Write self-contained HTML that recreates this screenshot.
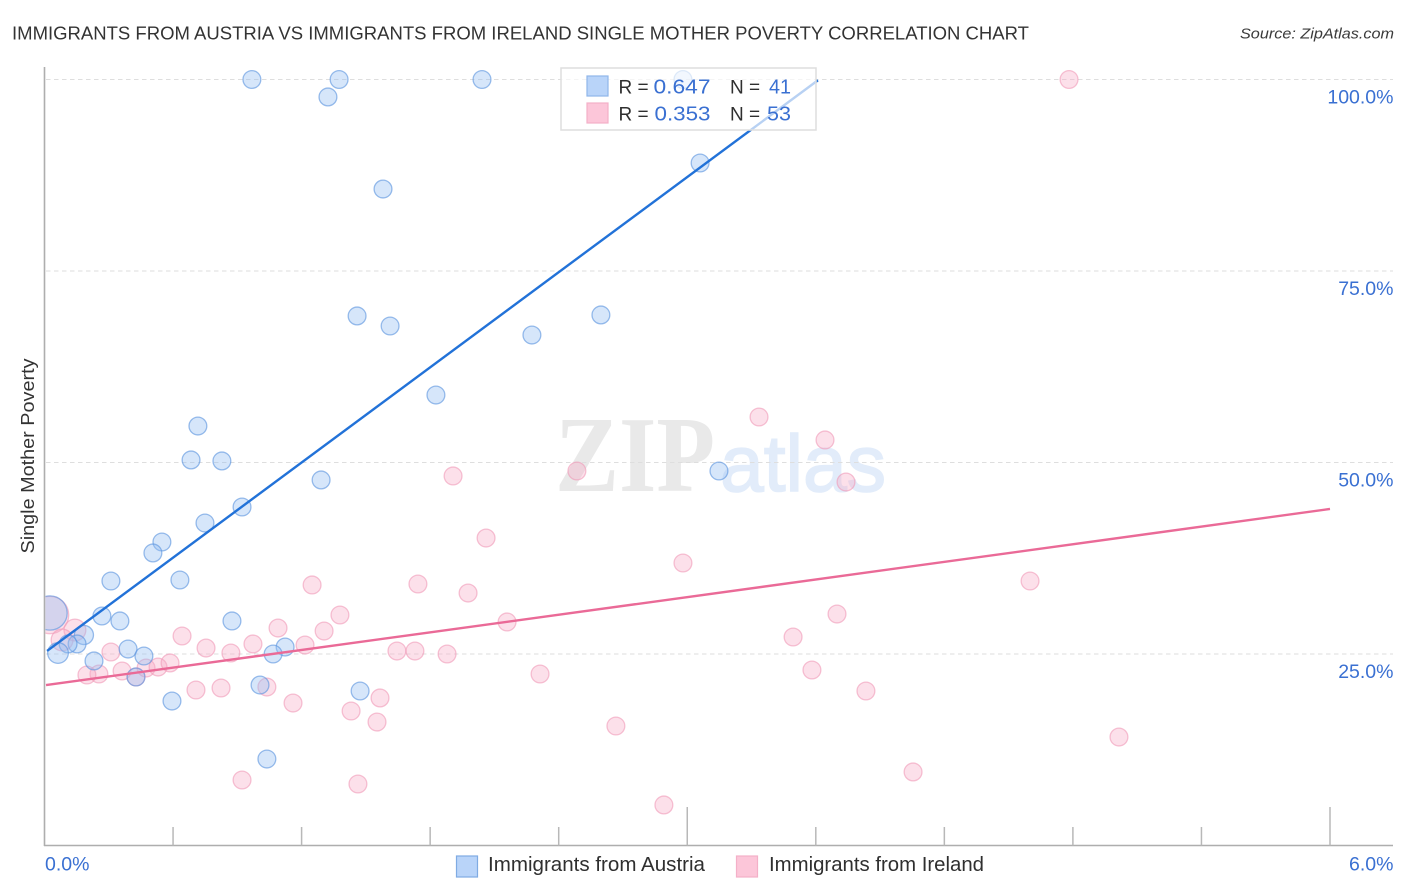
<!DOCTYPE html>
<html lang="en">
<head>
<meta charset="utf-8">
<title>Immigrants from Austria vs Immigrants from Ireland Single Mother Poverty Correlation Chart</title>
<style>
html,body{margin:0;padding:0;background:#fff;width:1406px;height:892px;overflow:hidden}
svg{display:block;font-family:"Liberation Sans",sans-serif}
</style>
</head>
<body>
<svg id="chart" xmlns="http://www.w3.org/2000/svg" width="1406" height="892" viewBox="0 0 1406 892">
  <defs>
    <clipPath id="plot-clip"><rect x="45.5" y="60" width="1350" height="785"/></clipPath>
  </defs>
  <rect x="0" y="0" width="1406" height="892" fill="#fff"/>
  <text x="12" y="39.5" font-size="18.5" fill="#333" textLength="1017" lengthAdjust="spacingAndGlyphs">IMMIGRANTS FROM AUSTRIA VS IMMIGRANTS FROM IRELAND SINGLE MOTHER POVERTY CORRELATION CHART</text>
  <text x="1394" y="38.5" font-size="15" font-style="italic" fill="#3a3a3a" text-anchor="end" textLength="154" lengthAdjust="spacingAndGlyphs">Source: ZipAtlas.com</text>
  <g>
    <text x="555" y="491" font-family="'Liberation Serif',serif" font-weight="700" font-size="108" fill="#e9e9e9" textLength="160" lengthAdjust="spacingAndGlyphs">ZIP</text>
    <text x="720" y="491" font-size="80" fill="#e2ecfa" stroke="#e2ecfa" stroke-width="1.6" textLength="166" lengthAdjust="spacingAndGlyphs">atlas</text>
  </g>
  <g id="grid"></g>
  <g id="axes"></g>
  <g id="pink-points" clip-path="url(#plot-clip)"></g>
  <g id="blue-points" clip-path="url(#plot-clip)"></g>
  <g id="trends"></g>
  <text transform="translate(34 456) rotate(-90)" font-size="18.5" fill="#333" text-anchor="middle" textLength="195" lengthAdjust="spacingAndGlyphs">Single Mother Poverty</text>
  <g>
    <rect x="561" y="68" width="255" height="62" fill="#fff" fill-opacity="0.68" stroke="#dedede" stroke-width="1.5"/>
    <rect x="587" y="76" width="21" height="20" fill="#b9d4f9" stroke="#8fb6e9" stroke-width="1.2"/>
    <rect x="587" y="103" width="21" height="20" fill="#fcc6d9" stroke="#f4b0c8" stroke-width="1.2"/>
    <g font-size="20">
      <text x="618.5" y="93.5" fill="#2f2f2f" font-size="19">R =</text>
      <text x="653.5" y="93.5" fill="#3a70d2" textLength="57" lengthAdjust="spacingAndGlyphs">0.647</text>
      <text x="730" y="93.5" fill="#2f2f2f" font-size="19">N =</text>
      <text x="769" y="93.5" fill="#3a70d2" textLength="22" lengthAdjust="spacingAndGlyphs">41</text>
      <text x="618.5" y="120.5" fill="#2f2f2f" font-size="19">R =</text>
      <text x="654.5" y="120.5" fill="#3a70d2" textLength="56" lengthAdjust="spacingAndGlyphs">0.353</text>
      <text x="730" y="120.5" fill="#2f2f2f" font-size="19">N =</text>
      <text x="767" y="120.5" fill="#3a70d2" textLength="24" lengthAdjust="spacingAndGlyphs">53</text>
    </g>
  </g>
  <g>
    <rect x="456.5" y="856" width="21" height="21" fill="#b9d4f9" stroke="#7fabe3" stroke-width="1.2"/>
    <text x="488" y="871" font-size="20" fill="#2f2f2f" textLength="217" lengthAdjust="spacingAndGlyphs">Immigrants from Austria</text>
    <rect x="736.5" y="856" width="21" height="21" fill="#fcc6d9" stroke="#f4b0c8" stroke-width="1.2"/>
    <text x="769" y="871" font-size="20" fill="#2f2f2f" textLength="215" lengthAdjust="spacingAndGlyphs">Immigrants from Ireland</text>
  </g>
</svg>
<script>
const xTickValues = [0.6, 1.2, 1.8, 2.4, 3.0, 3.6, 4.2, 4.8, 5.4, 6.0];
const xMajorTickValues = [3.0, 6.0];
const xEndLabels = ["0.0%", "6.0%"];
const xEndLabelValues = [0, 6];
const yTickValues = [25, 50, 75, 100];
const yTickLabels = ["25.0%", "50.0%", "75.0%", "100.0%"];

const austriaX = [0.968, 1.375, 2.042, 2.980, 1.323, 3.060, 1.580, 1.459, 1.613, 2.275, 2.597, 1.827, 0.716, 0.684, 0.828, 3.148, 1.291, 0.922, 0.749, 0.548, 0.506, 0.310, 0.632, 0.268, 0.352, 0.875, 0.184, 0.152, 0.110, 0.063, 0.390, 0.464, 0.231, 1.123, 1.067, 0.427, 1.006, 1.473, 0.595, 1.038, 0.026];
const austriaY = [100, 100, 100, 100, 97.72, 89.1, 85.7, 69.13, 67.82, 66.64, 69.26, 58.81, 54.76, 50.33, 50.2, 48.89, 47.72, 44.19, 42.1, 39.62, 38.19, 34.53, 34.66, 29.96, 29.31, 29.31, 27.48, 26.31, 26.31, 25.13, 25.65, 24.74, 24.09, 25.91, 25.0, 22.0, 20.95, 20.17, 18.86, 11.29, 30.35];
const austriaWeight = [1, 1, 1, 1, 1, 1, 1, 1, 1, 1, 1, 1, 1, 1, 1, 1, 1, 1, 1, 1, 1, 1, 1, 1, 1, 1, 1.15, 1, 1, 1.35, 1, 1, 1, 1, 1, 1, 1, 1, 1, 1, 3.7];

const irelandX = [4.782, 3.335, 3.643, 2.485, 1.907, 3.741, 2.061, 2.980, 4.600, 1.249, 1.743, 1.977, 1.379, 3.699, 2.159, 1.305, 1.090, 3.494, 0.642, 0.754, 0.870, 0.973, 1.216, 1.645, 1.729, 1.879, 3.582, 2.313, 0.310, 0.362, 0.254, 0.198, 0.427, 0.474, 0.530, 0.586, 0.707, 0.824, 1.038, 3.834, 1.160, 1.566, 1.431, 1.552, 2.667, 5.015, 4.054, 0.922, 1.463, 2.891, 0.026, 0.142, 0.082];
const irelandY = [100, 55.94, 52.94, 48.89, 48.24, 47.45, 40.14, 36.88, 34.53, 34.01, 34.14, 32.96, 30.09, 30.22, 29.18, 28.0, 28.39, 27.22, 27.35, 25.78, 25.13, 26.31, 26.17, 25.39, 25.39, 25.0, 22.91, 22.39, 25.26, 22.78, 22.39, 22.26, 22.0, 23.17, 23.3, 23.83, 20.3, 20.56, 20.69, 20.17, 18.6, 19.26, 17.56, 16.12, 15.6, 14.16, 9.6, 8.55, 8.03, 5.29, 30.09, 28.13, 26.83];
const irelandWeight = [1, 1, 1, 1, 1, 1, 1, 1, 1, 1, 1, 1, 1, 1, 1, 1, 1, 1, 1, 1, 1, 1, 1, 1, 1, 1, 1, 1, 1, 1, 1, 1, 1, 1, 1, 1, 1, 1, 1, 1, 1, 1, 1, 1, 1, 1, 1, 1, 1, 1, 4.4, 1.5, 1.5];

const austriaTrendX = [0.012, 3.61];
const austriaTrendY = [25.4, 99.9];
const irelandTrendX = [0.007, 6.0];
const irelandTrendY = [20.95, 43.93];

const NS = 'http://www.w3.org/2000/svg';
const xScale = v => 44.5 + v * 214.25;
const yScale = v => 845.5 - v * 7.66;
const radius = w => 8.9 * Math.sqrt(w);

function make(tag, attrs, parent, text) {
  const el = document.createElementNS(NS, tag);
  for (const k in attrs) el.setAttribute(k, attrs[k]);
  if (text !== undefined) el.textContent = text;
  parent.appendChild(el);
  return el;
}

const grid = document.getElementById('grid');
yTickValues.forEach((v, i) => {
  const line = make('line', {x1: 46, x2: 1393, y1: yScale(v), y2: yScale(v), stroke: '#dedede', 'stroke-width': 1, 'stroke-dasharray': '4.5 3.5'}, grid);
  
  
  const label = make('text', {x: 1393.5, y: yScale(v) + 24, 'text-anchor': 'end', 'font-size': 19.5, fill: '#3a70d2'}, grid, yTickLabels[i]);
  
  
});

const axes = document.getElementById('axes');
const yAxis = make('line', {x1: 44.5, x2: 44.5, y1: 67, y2: 846, stroke: '#aeaeae', 'stroke-width': 1.6}, axes);


const xAxis = make('line', {x1: 44, x2: 1393, y1: 845.5, y2: 845.5, stroke: '#aeaeae', 'stroke-width': 1.6}, axes);


xTickValues.forEach(v => {
  const top = xMajorTickValues.includes(v) ? 807 : 827;
  const tick = make('line', {x1: xScale(v), x2: xScale(v), y1: top, y2: 845.5, stroke: '#b8b8b8', 'stroke-width': 1.5}, axes);
  
  
});
xEndLabels.forEach((t, i) => {
  const v = xEndLabelValues[i];
  const label = make('text', {x: i === 0 ? xScale(v) + 0.5 : 1393.5, y: 870.5, 'text-anchor': i === 0 ? 'start' : 'end', 'font-size': 19.5, fill: '#3a70d2'}, axes, t);
  
  
});

const pinkGroup = document.getElementById('pink-points');
irelandX.forEach((x, i) => {
  const c = make('circle', {cx: xScale(x), cy: yScale(irelandY[i]), r: radius(irelandWeight[i]), fill: '#f7a8c4', 'fill-opacity': 0.36, stroke: '#f09ab8', 'stroke-opacity': 0.6, 'stroke-width': 1.3}, pinkGroup);
  
  
});
const blueGroup = document.getElementById('blue-points');
austriaX.forEach((x, i) => {
  const c = make('circle', {cx: xScale(x), cy: yScale(austriaY[i]), r: radius(austriaWeight[i]), fill: '#94bdf3', 'fill-opacity': 0.38, stroke: '#5c94de', 'stroke-opacity': 0.62, 'stroke-width': 1.3}, blueGroup);
  
  
});

const trends = document.getElementById('trends');
const blueTrend = make('line', {x1: xScale(austriaTrendX[0]), y1: yScale(austriaTrendY[0]), x2: xScale(austriaTrendX[1]), y2: yScale(austriaTrendY[1]), stroke: '#2272d8', 'stroke-width': 2.4}, trends);


const pinkTrend = make('line', {x1: xScale(irelandTrendX[0]), y1: yScale(irelandTrendY[0]), x2: xScale(irelandTrendX[1]), y2: yScale(irelandTrendY[1]), stroke: '#ea6a97', 'stroke-width': 2.4}, trends);


</script>
</body>
</html>
